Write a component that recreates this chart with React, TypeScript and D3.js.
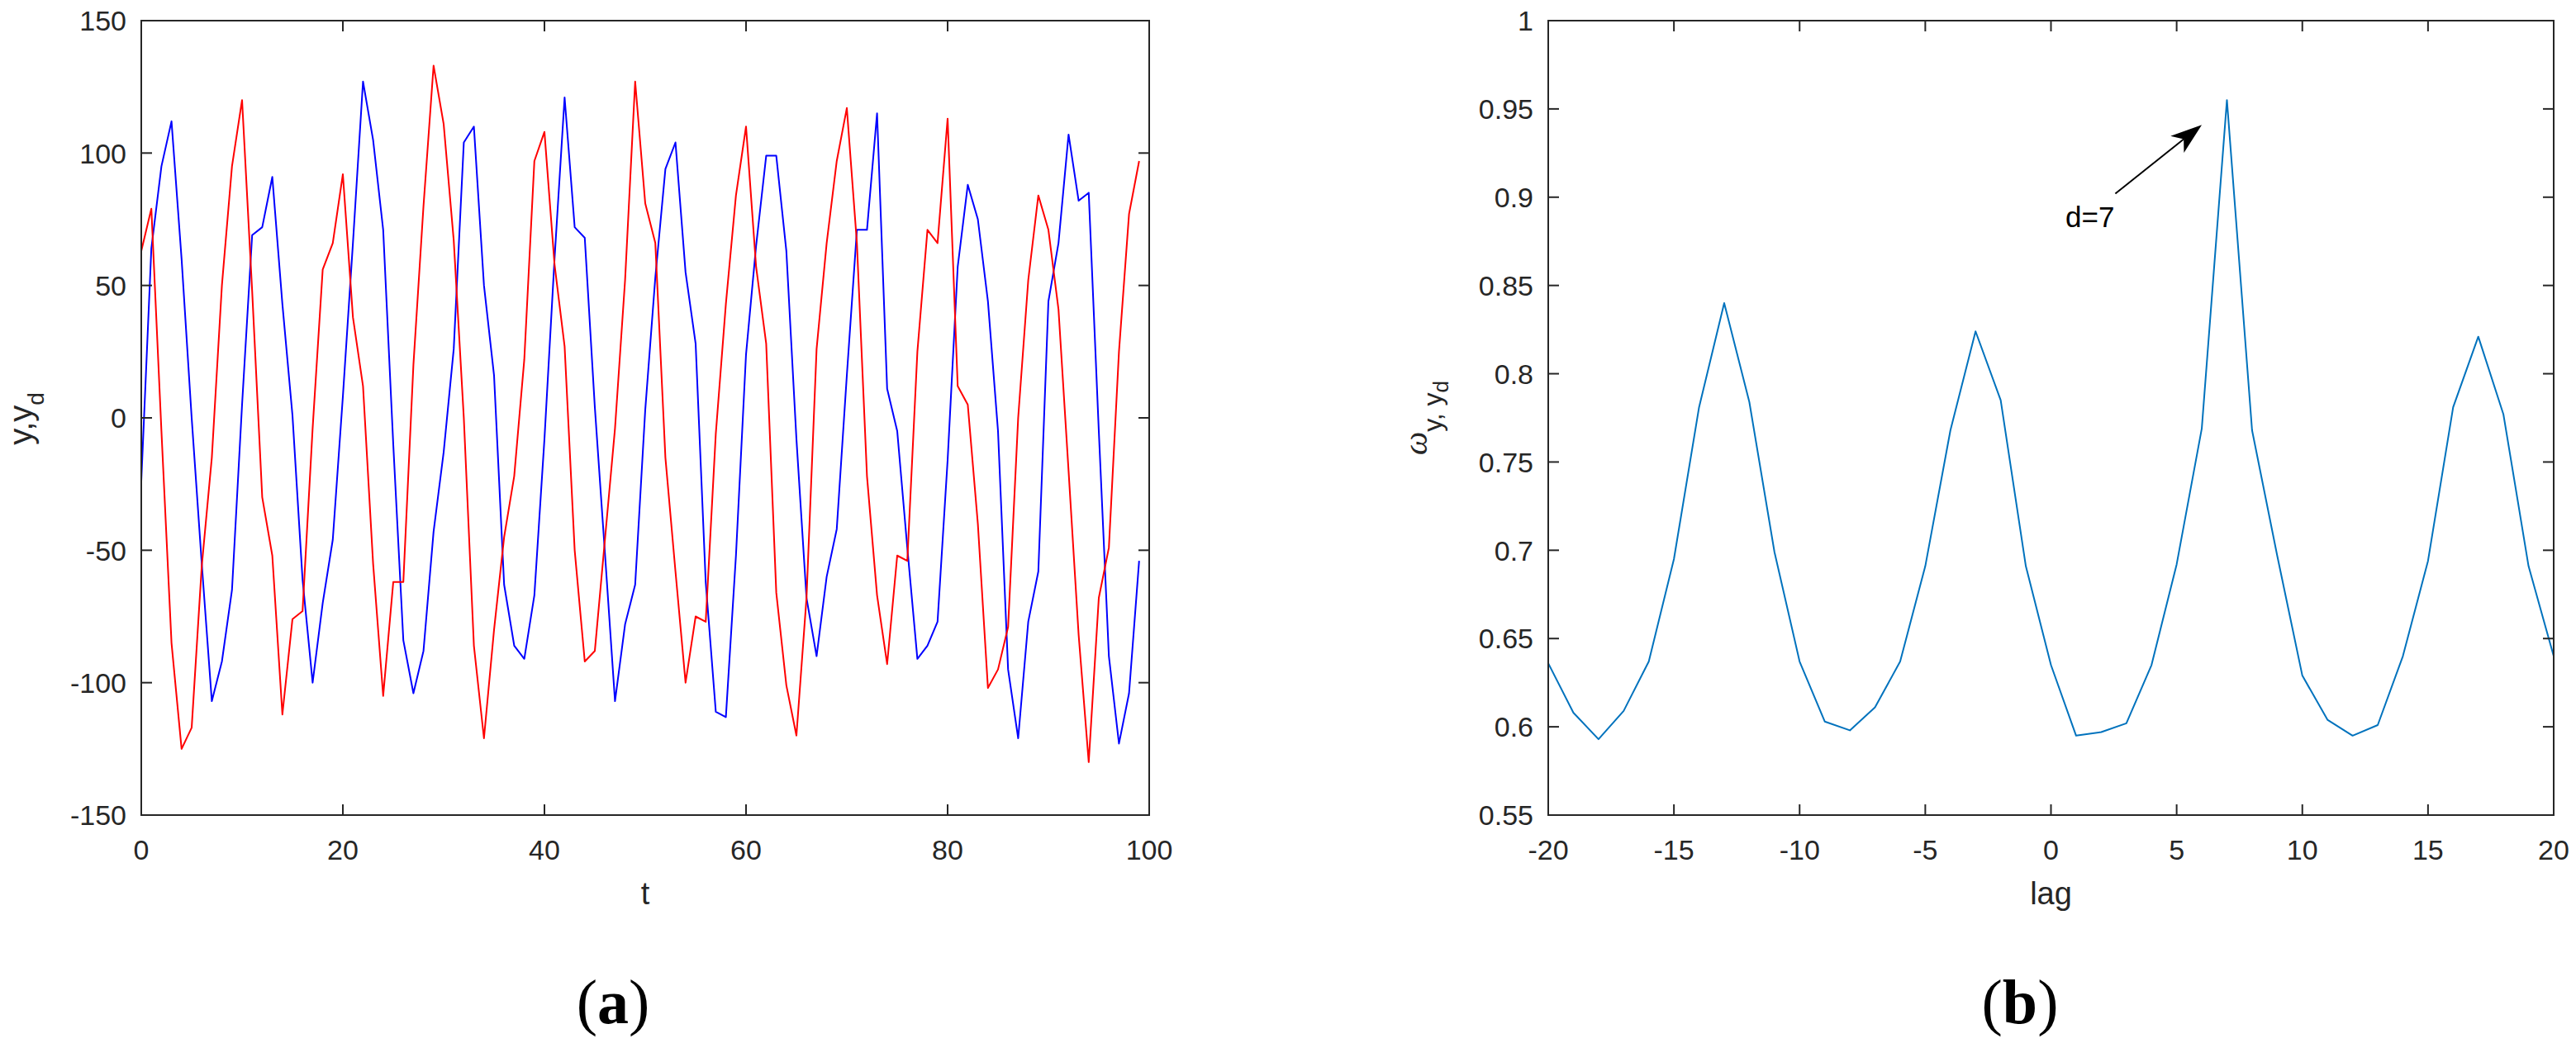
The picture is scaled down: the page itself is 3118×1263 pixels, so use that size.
import React from 'react';
import * as d3 from 'd3';

// (a) time series y (blue) and y_d (red), t = 0..99
const tIndex = d3.range(0, 100);
const ySeries = [
  -24, 64, 95, 112, 60, 0, -55, -107, -92, -65,
  5, 69, 72, 91, 43, 1, -61, -100, -70, -46,
  8, 66, 127, 105, 71, -10, -84, -104, -88, -43,
  -13, 26, 104, 110, 50, 16, -63, -86, -91, -67,
  -8, 60, 121, 72, 68, 4, -51, -107, -78, -63,
  3, 53, 94, 104, 55, 28, -62, -111, -113, -52,
  24, 65, 99, 99, 63, -8, -68, -90, -60, -42,
  16, 71, 71, 115, 11, -5, -49, -91, -86, -77,
  -16, 57, 88, 75, 44, -5, -95, -121, -77, -58,
  44, 66, 107, 82, 85, -5, -90, -123, -104, -54,
];
const ydSeries = [
  63, 79, -5, -85, -125, -117, -56, -15, 50, 95,
  120, 48, -30, -52, -112, -76, -73, -4, 56, 66,
  92, 38, 12, -55, -105, -62, -62, 20, 80, 133,
  111, 67, 0, -86, -121, -80, -45, -22, 22, 97,
  108, 58, 27, -50, -92, -88, -46, -4, 52, 127,
  81, 66, -15, -58, -100, -75, -77, -6, 43, 84,
  110, 57, 28, -66, -101, -120, -68, 26, 66, 97,
  117, 66, -22, -67, -93, -52, -54, 25, 71, 66,
  113, 12, 5, -40, -102, -95, -79, 0, 52, 84,
  71, 41, -20, -82, -130, -68, -49, 25, 77, 97,
];
const leftXTicks = [0, 20, 40, 60, 80, 100];
const leftYTicks = [-150, -100, -50, 0, 50, 100, 150];

// (b) omega vs lag
const lags = d3.range(-20, 21);
const omega = [
  0.636, 0.608, 0.593, 0.609, 0.637, 0.695, 0.781, 0.84, 0.784, 0.699,
  0.637, 0.603, 0.598, 0.611, 0.637, 0.691, 0.768, 0.824, 0.785, 0.691,
  0.635, 0.595, 0.597, 0.602, 0.635, 0.692, 0.769, 0.955, 0.768, 0.697,
  0.629, 0.604, 0.595, 0.601, 0.64, 0.694, 0.781, 0.821, 0.777, 0.691,
  0.64,
];
const rightXTicks = [-20, -15, -10, -5, 0, 5, 10, 15, 20];
const rightYTicks = [0.55, 0.6, 0.65, 0.7, 0.75, 0.8, 0.85, 0.9, 0.95, 1];
const rightYTickLabels = ['0.55', '0.6', '0.65', '0.7', '0.75', '0.8', '0.85', '0.9', '0.95', '1'];

// annotation "d=7" arrow, in data units (lag, omega)
const arrowTail = [2.56, 0.902];
const arrowHead = [6.0, 0.941];

const W = 3118;
const H = 1263;
const TOP = 25;
const BOTTOM = 987;
const FONT = 'Liberation Sans, Arial, Helvetica, sans-serif';
const SERIF = 'Liberation Serif, Times New Roman, serif';
const AX = '#262626';
const TICK = 13;

const xL = d3.scaleLinear().domain([0, 100]).range([171, 1391]);
const yL = d3.scaleLinear().domain([-150, 150]).range([BOTTOM, TOP]);
const xR = d3.scaleLinear().domain([-20, 20]).range([1874, 3091]);
const yR = d3.scaleLinear().domain([0.55, 1]).range([BOTTOM, TOP]);

type Scale = d3.ScaleLinear<number, number>;

function Frame({ x, y, xTicks, yTicks, yLabels }: { x: Scale; y: Scale; xTicks: number[]; yTicks: number[]; yLabels?: string[] }) {
  const [x0, x1] = x.range();
  const [y1, y0] = y.range();
  return (
    <g>
      <rect x={x0} y={y0} width={x1 - x0} height={y1 - y0} fill="none" stroke={AX} strokeWidth={2} />
      {xTicks.map((v) => (
        <g key={'x' + v}>
          <line x1={x(v)} x2={x(v)} y1={y1} y2={y1 - TICK} stroke={AX} strokeWidth={2} />
          <line x1={x(v)} x2={x(v)} y1={y0} y2={y0 + TICK} stroke={AX} strokeWidth={2} />
          <text x={x(v)} y={y1 + 54} textAnchor="middle" fontSize={34} fill={AX} fontFamily={FONT}>
            {v}
          </text>
        </g>
      ))}
      {yTicks.map((v, i) => (
        <g key={'y' + v}>
          <line x1={x0} x2={x0 + TICK} y1={y(v)} y2={y(v)} stroke={AX} strokeWidth={2} />
          <line x1={x1} x2={x1 - TICK} y1={y(v)} y2={y(v)} stroke={AX} strokeWidth={2} />
          <text x={x0 - 18} y={y(v)} dy="0.36em" textAnchor="end" fontSize={34} fill={AX} fontFamily={FONT}>
            {yLabels ? yLabels[i] : v}
          </text>
        </g>
      ))}
    </g>
  );
}

export default function App() {
  const lineL = d3
    .line<number>()
    .x((_, i) => xL(tIndex[i]))
    .y((d) => yL(d));
  const lineR = d3
    .line<number>()
    .x((_, i) => xR(lags[i]))
    .y((d) => yR(d));

  // arrow geometry
  const tx = xR(arrowTail[0]);
  const ty = yR(arrowTail[1]);
  const hx = xR(arrowHead[0]);
  const hy = yR(arrowHead[1]);
  const len = Math.hypot(hx - tx, hy - ty);
  const ux = (hx - tx) / len;
  const uy = (hy - ty) / len;
  const px = -uy;
  const py = ux;
  const headLen = 38;
  const headW = 13;
  const bx = hx - headLen * ux;
  const by = hy - headLen * uy;
  const nx = hx - 28 * ux;
  const ny = hy - 28 * uy;
  const head = [
    [hx, hy],
    [bx + headW * px, by + headW * py],
    [nx, ny],
    [bx - headW * px, by - headW * py],
  ]
    .map((p) => p.join(','))
    .join(' ');

  const cxL = (xL.range()[0] + xL.range()[1]) / 2;
  const cxR = (xR.range()[0] + xR.range()[1]) / 2;

  return (
    <svg width={W} height={H} style={{ position: 'absolute', left: 0, top: 0, background: '#fff' }}>
      <rect x={0} y={0} width={W} height={H} fill="#fff" />

      {/* panel (a) */}
      <path d={lineL(ySeries) || ''} fill="none" stroke="#0000ff" strokeWidth={2} strokeLinejoin="round" />
      <path d={lineL(ydSeries) || ''} fill="none" stroke="#ff0000" strokeWidth={2} strokeLinejoin="round" />
      <Frame x={xL} y={yL} xTicks={leftXTicks} yTicks={leftYTicks} />
      <text x={cxL} y={BOTTOM + 108} textAnchor="middle" fontSize={38} fill={AX} fontFamily={FONT}>
        t
      </text>
      <text transform={`translate(39,507) rotate(-90)`} textAnchor="middle" fontSize={40} fill={AX} fontFamily={FONT}>
        y,y
        <tspan fontSize={28} dy={14}>
          d
        </tspan>
      </text>
      <text x={742} y={1239} textAnchor="middle" fontSize={76} fill="#000" fontFamily={SERIF}>
        (<tspan fontWeight="bold">a</tspan>)
      </text>

      {/* panel (b) */}
      <path d={lineR(omega) || ''} fill="none" stroke="#0072bd" strokeWidth={2} strokeLinejoin="round" />
      <Frame x={xR} y={yR} xTicks={rightXTicks} yTicks={rightYTicks} yLabels={rightYTickLabels} />
      <text x={cxR} y={BOTTOM + 108} textAnchor="middle" fontSize={38} fill={AX} fontFamily={FONT}>
        lag
      </text>
      <text transform={`translate(1727,506) rotate(-90)`} textAnchor="middle" fontSize={38} fill={AX} fontFamily={FONT}>
        <tspan fontStyle="italic" fontFamily={SERIF} fontSize={40}>
          ω
        </tspan>
        <tspan fontSize={32} dy={18}>
          y, y
        </tspan>
        <tspan fontSize={26} dy={8}>
          d
        </tspan>
      </text>
      <line x1={tx} y1={ty} x2={nx} y2={ny} stroke="#000" strokeWidth={2} />
      <polygon points={head} fill="#000" />
      <text x={tx - 1} y={ty + 40} textAnchor="end" fontSize={35} fill="#000" fontFamily={FONT}>
        d=7
      </text>
      <text x={2445} y={1239} textAnchor="middle" fontSize={76} fill="#000" fontFamily={SERIF}>
        (<tspan fontWeight="bold">b</tspan>)
      </text>
    </svg>
  );
}
